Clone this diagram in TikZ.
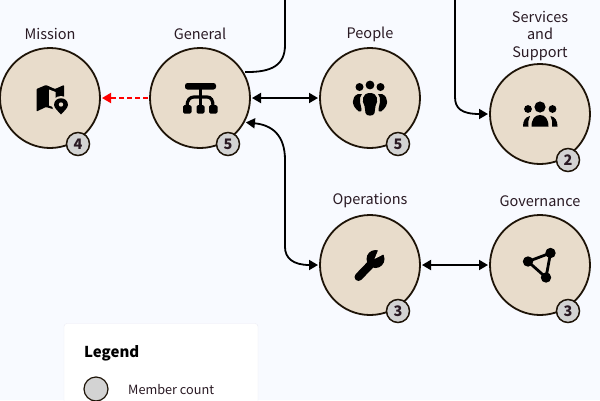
\documentclass[tikz,border=0pt]{standalone}
\usepackage{fontspec}
\setmainfont{Noto Sans CJK SC}
\usetikzlibrary{arrows.meta}
\definecolor{pagebg}{HTML}{F8FAFF}
\definecolor{unitfill}{HTML}{E8DCCB}
\definecolor{unitline}{HTML}{1E1408}
\definecolor{badgefill}{HTML}{D3D3D3}
\definecolor{labeltext}{HTML}{2A1A24}
\definecolor{legendline}{HTML}{ECECF4}
\tikzset{
  unit/.style={circle,draw=unitline,fill=unitfill,line width=1.8pt,minimum size=100pt,inner sep=0pt,outer sep=2pt},
  badge/.style={circle,draw=unitline,fill=badgefill,line width=1.5pt,minimum size=23pt,inner sep=0pt,text=labeltext,font=\fontsize{14.5}{14.5}\selectfont\bfseries},
  unitlabel/.style={text=labeltext,align=center,font=\fontsize{14.5}{17.5}\selectfont,inner sep=0pt},
  link/.style={black,line width=1.8pt,>={Triangle[length=9pt,width=10pt]}},
  redlink/.style={red,line width=1.8pt,dash pattern=on 5pt off 3pt,-{Triangle[length=9pt,width=10pt]}},
  icon/.style={fill=black,draw=none},
}
\begin{document}
\begin{tikzpicture}[x=1pt,y=-1pt]
\path[use as bounding box,clip] (0,0) rectangle (600,400);
\fill[pagebg] (0,0) rectangle (600,400);

\node[unit] (mission) at (50,98) {};
\node[unit] (general) at (200,98) {};
\node[unit] (people) at (370,98) {};
\node[unit] (services) at (540,114) {};
\node[unit] (operations) at (370,265) {};
\node[unit] (governance) at (540,265) {};

\node[unitlabel] (missionlabel) at (50,34) {Mission};
\node[unitlabel] (generallabel) at (200,34) {General};
\node[unitlabel] (peoplelabel) at (370,34) {People};
\node[unitlabel] (serviceslabel) at (540,36) {Services\\and\\Support};
\node[unitlabel] (operationslabel) at (370,201) {Operations};
\node[unitlabel] (governancelabel) at (540,201) {Governance};

\coordinate (generalup) at (285,-5);
\coordinate (servicesup) at (455,-5);
\draw[redlink] (general) -- (mission);
\draw[link,<->] (general) -- (people);
\draw[link,<->] (operations) -- (governance);
\draw[link,<->] (general.-28) .. controls (272,125) and (285,135) .. (285,160) -- (285,247) .. controls (285,258) and (293,265) .. (operations.west);
\draw[link] (general.30) .. controls (272,72.5) and (285,65) .. (285,45) -- (generalup);
\draw[link,->] (servicesup) -- (455,97) .. controls (455,108) and (461,114) .. (services.west);

\node[badge] (missionbadge) at (78,144) {4};
\node[badge] (generalbadge) at (228,144) {5};
\node[badge] (peoplebadge) at (398,144) {5};
\node[badge] (servicesbadge) at (568,160) {2};
\node[badge] (operationsbadge) at (398,311) {3};
\node[badge] (governancebadge) at (568,311) {3};

% map
\fill[icon,rounded corners=0.8pt] (36.5,89) -- (46,85) -- (55,89) -- (64,85) -- (64,98) -- (56,98) -- (56,110) -- (46,107) -- (36.5,111.5) -- cycle;
\fill[unitfill] (49,89.5) -- (55.5,92) -- (55.5,108) -- (49,105.5) -- cycle;
\fill[unitfill] (61,105) circle (9);
\fill[icon] (54,105) .. controls (54,96) and (68,96) .. (68,105) .. controls (68,108) and (63,112) .. (61,114.5) .. controls (59,112) and (54,108) .. (54,105) -- cycle;
\fill[unitfill] (61,104.5) circle (2.2);

% tree
\fill[icon,rounded corners=2.5pt] (185,83) rectangle (216,89.5);
\fill[icon] (198.5,88) rectangle (202,100);
\draw[line width=3.2pt] (187,106) .. controls (187,100) and (190,97) .. (194,97) -- (207,97) .. controls (211,97) and (213,100) .. (213,106);
\draw[line width=3.2pt] (200.2,97) -- (200.2,106);
\fill[icon,rounded corners=1.5pt] (183,105) rectangle (191.5,113.5);
\fill[icon,rounded corners=1.5pt] (196.5,105) rectangle (204.5,113.5);
\fill[icon,rounded corners=1.5pt] (209,105) rectangle (217.5,113.5);

% people
\fill[icon] (359.5,87) circle (4);
\fill[icon] (370,85) circle (4.4);
\fill[icon] (380.5,87) circle (4);
\fill[icon] (370,93) .. controls (378,93) and (378.5,101) .. (375.5,106) -- (374.5,113) .. controls (374,116.5) and (366,116.5) .. (365.5,113) -- (364.5,106) .. controls (361.5,101) and (362,93) .. (370,93) -- cycle;
\fill[icon] (358,94) .. controls (351,97) and (351,106) .. (359,111.5) .. controls (361,112.5) and (362,111) .. (361.5,109) -- (360,102) .. controls (359.5,99) and (360,96) .. (362,94) -- cycle;
\fill[icon] (382,94) .. controls (389,97) and (389,106) .. (381,111.5) .. controls (379,112.5) and (378,111) .. (378.5,109) -- (380,102) .. controls (380.5,99) and (380,96) .. (378,94) -- cycle;

% team
\fill[icon] (528,109) circle (3.9);
\fill[icon] (540,107) circle (5.6);
\fill[icon] (552.5,109) circle (3.9);
\fill[icon] (531.5,126.5) .. controls (531.5,119) and (535,115) .. (540,115) .. controls (545,115) and (548.5,119) .. (548.5,126.5) -- cycle;
\fill[icon] (523,126.5) .. controls (523,121) and (525,117) .. (530,116) .. controls (528.5,119) and (528,122) .. (528.5,126.5) -- cycle;
\fill[icon] (557.5,126.5) .. controls (557.5,121) and (555.5,117) .. (550.5,116) .. controls (552,119) and (552.5,122) .. (552,126.5) -- cycle;

% wrench
\draw[line width=8pt,line cap=round] (358.5,277) -- (372,263);
\fill[icon] (375.5,259) circle (9);
\fill[unitfill] (374.5,259) -- (379,248) -- (388,248) -- (388,252) -- cycle;

% triangle
\draw[line width=2.8pt,line join=round] (528,261.5) -- (550.5,253) -- (546,277.5) -- cycle;
\fill[icon] (528,261.5) circle (5.2);
\fill[icon] (550.5,253) circle (5.2);
\fill[icon] (546,277.5) circle (5.2);

\draw[legendline,fill=white,rounded corners=3pt] (64,323.5) rectangle (258,430);
\node[anchor=west,inner sep=0pt,font=\fontsize{15}{15}\selectfont\bfseries] (legendtitle) at (84,353) {Legend};
\node[circle,draw=unitline,fill=badgefill,line width=1.2pt,minimum size=24pt,inner sep=0pt] (legendbadge) at (96,389) {};
\node[anchor=west,inner sep=0pt,text=labeltext,font=\fontsize{12.7}{13}\selectfont] (legendtext) at (128,390) {Member count};
\end{tikzpicture}
\end{document}
